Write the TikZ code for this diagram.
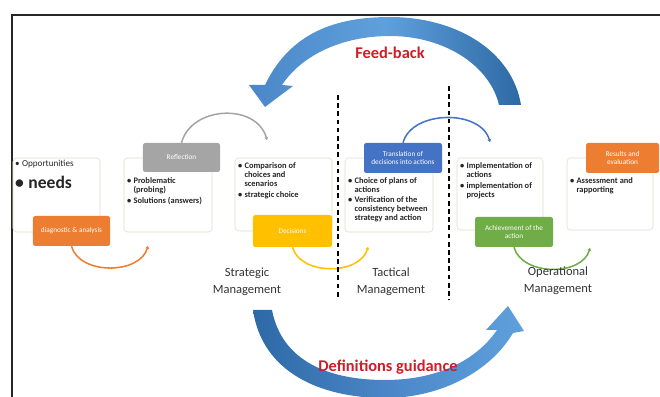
\documentclass[tikz,border=0pt]{standalone}
\usepackage{fontspec}
\setmainfont{Carlito}
\usetikzlibrary{arrows.meta}

\newcommand{\bul}{\makebox[0.75em][l]{\textbullet}}
\newcommand{\ind}{\hspace*{0.75em}}

\tikzset{
  box/.style={draw=boxline, fill=white, rounded corners=3pt, line width=0.5pt},
  tag/.style={fill=#1, rounded corners=2pt, text=white, inner sep=1pt,
    align=center, font=\fontsize{6.2}{7}\selectfont},
  txt/.style={anchor=north west, inner sep=0pt, align=left, text=black!85,
    font=\bfseries\fontsize{7.2}{7.7}\selectfont},
  cyc/.style={draw=#1, line width=1.3pt, -{Stealth[length=2.5pt,width=3.5pt]}},
  sep/.style={line width=1.2pt, dash pattern=on 4pt off 3pt},
  lvl/.style={align=center, text=black!80, font=\fontsize{10.7}{14.5}\selectfont},
  big/.style={text=fbred, font=\bfseries\fontsize{14}{16}\selectfont},
}

\begin{document}
\begin{tikzpicture}[x=0.03cm, y=-0.03cm]
    \definecolor{boxline}{RGB}{225, 220, 205}
    \definecolor{tagorange}{RGB}{237, 125, 49}
    \definecolor{taggrey}{RGB}{165, 165, 165}
    \definecolor{tagyellow}{RGB}{255, 192, 0}
    \definecolor{tagblue}{RGB}{68, 114, 196}
    \definecolor{taggreen}{RGB}{112, 173, 71}
    \definecolor{fbred}{RGB}{205, 30, 40}
    \definecolor{arrlight}{RGB}{95, 160, 220}
    \definecolor{arrmid}{RGB}{75, 135, 200}
    \definecolor{arrdark}{RGB}{45, 105, 165}

    \useasboundingbox (0,0) rectangle (660,397);
    % frame
    \draw[line width=1.6pt, black!85] (12,397) -- (12,15) -- (660,15);

    % feed-back arrow (top)
    \shade[left color=arrmid, right color=arrdark, middle color=arrlight]
      (265,85) .. controls (290,33) and (335,17) .. (390,17)
      .. controls (455,17) and (512,50) .. (521,105)
      -- (499,105) .. controls (490,66) and (445,36) .. (390,36)
      .. controls (342,36) and (302,55) .. (282,85)
      -- (293,86) -- (265,107) -- (249,85) -- cycle;
    \node[big] (fb) at (390,53) {Feed-back};

    % definitions guidance arrow (bottom)
    \shade[left color=arrdark, right color=arrlight, middle color=arrmid]
      (253,310) .. controls (262,372) and (320,398) .. (385,398)
      .. controls (440,398) and (490,372) .. (513,333)
      -- (524,331) -- (508,306) -- (486,330) -- (497,330)
      .. controls (475,362) and (435,380) .. (385,380)
      .. controls (330,380) and (282,362) .. (272,310) -- cycle;
    \node[big] (dg) at (388,367) {Definitions guidance};

    % boxes
    \node[box, minimum width=2.61cm, minimum height=2.22cm] (b1) at (56.5,195) {};
    \node[box, minimum width=2.64cm, minimum height=2.22cm] (b2) at (168,195) {};
    \node[box, minimum width=2.91cm, minimum height=2.19cm] (b3) at (283.5,194.5) {};
    \node[box, minimum width=2.64cm, minimum height=2.22cm] (b4) at (389,195) {};
    \node[box, minimum width=2.58cm, minimum height=2.16cm] (b5) at (500,194) {};
    \node[box, minimum width=2.58cm, minimum height=2.16cm] (b6) at (610,194) {};

    % box texts
    \node[txt, font=\fontsize{7.8}{8.5}\selectfont] (t1a) at (15,160) {\bul Opportunities};
    \node[txt, anchor=west, font=\bfseries\fontsize{15}{17}\selectfont] (t1b) at (15,182) {\bul needs};
    \node[txt] (t2) at (127,177) {\bul Problematic\\\ind(probing)\\[2pt]\bul Solutions (answers)};
    \node[txt] (t3) at (238,162) {\bul Comparison of\\\ind choices and\\\ind scenarios\\[2pt]\bul strategic choice};
    \node[txt] (t4) at (348,177) {\bul Choice of plans of\\\ind actions\\[1.5pt]\bul Verification of the\\\ind consistency between\\\ind strategy and action};
    \node[txt] (t5) at (460,162) {\bul Implementation of\\\ind actions\\[2pt]\bul implementation of\\\ind projects};
    \node[txt] (t6) at (570,177) {\bul Assessment and\\\ind rapporting};

    % tags
    \node[tag=tagorange, minimum width=2.31cm, minimum height=0.9cm] (diag) at (71.5,231) {diagnostic \& analysis};
    \node[tag=taggrey, minimum width=2.31cm, minimum height=0.87cm] (refl) at (181.5,157.5) {Reflection};
    \node[tag=tagyellow, minimum width=2.37cm, minimum height=0.96cm] (decis) at (292.5,231) {Decisions};
    \node[tag=tagblue, minimum width=2.34cm, minimum height=0.9cm] (transl) at (403,158) {Translation of\\decisions into actions};
    \node[tag=taggreen, minimum width=2.34cm, minimum height=0.9cm] (achiev) at (514,232) {Achievement of the\\action};
    \node[tag=tagorange, minimum width=2.19cm, minimum height=0.9cm] (result) at (622.5,158) {Results and\\evaluation};

    % cycle arcs
    \coordinate (e1) at (148,246);
    \coordinate (e2) at (267,140);
    \coordinate (e3) at (368,247);
    \coordinate (e4) at (490,142);
    \coordinate (e5) at (590,248);
    \draw[cyc=tagorange] (diag.south) to[out=-75, in=-105] (e1);
    \draw[cyc=taggrey] (refl.north) to[out=75, in=105, looseness=1.15] (e2);
    \draw[cyc=tagyellow] (decis.south) to[out=-75, in=-105] (e3);
    \draw[cyc=tagblue] (transl.north) to[out=75, in=105] (e4);
    \draw[cyc=taggreen] (achiev.south) to[out=-75, in=-105] (e5);

    % separators
    \coordinate (s1t) at (338,95);
    \coordinate (s1b) at (338,300);
    \coordinate (s2t) at (449,86);
    \coordinate (s2b) at (449,300);
    \draw[sep] (s1t) -- (s1b);
    \draw[sep] (s2t) -- (s2b);

    % levels
    \node[lvl] (strat) at (247,282) {Strategic\\Management};
    \node[lvl] (tact) at (391,282) {Tactical\\Management};
    \node[lvl] (oper) at (558,281) {Operational\\Management};
\end{tikzpicture}
\end{document}
